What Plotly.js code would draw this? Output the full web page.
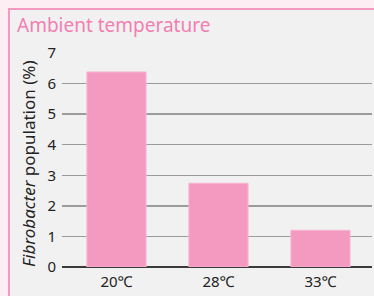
<!DOCTYPE html>
<html>
<head>
<meta charset="utf-8">
<script src="https://cdn.plot.ly/plotly-3.0.1.min.js"></script>
<style>html,body{margin:0;padding:0;background:#fdeef4;}#chart{width:374px;height:296px;}</style>
</head>
<body>
<div id="chart"></div>
<script>
const categories = ["20\u2103", "28\u2103", "33\u2103"];
const population = [6.38, 2.74, 1.2];
const yTicks = [0, 1, 2, 3, 4, 5, 6, 7];

const W = 374, H = 296;
const M = {l: 62, r: 2, t: 53, b: 29};
const pw = W - M.l - M.r, ph = H - M.t - M.b;
const px = v => (v - M.l) / pw;
const py = v => (H - M.b - v) / ph;

const fontFam = '"Noto Sans", "Open Sans", sans-serif';

const trace = {
  type: 'bar',
  x: categories,
  y: population,
  marker: {color: '#f49ac1', line: {color: '#f7b6d2', width: 1}},
  hoverinfo: 'none'
};

const layout = {
  width: W, height: H,
  margin: M,
  paper_bgcolor: '#fdeef4',
  plot_bgcolor: 'rgba(0,0,0,0)',
  showlegend: false,
  bargap: 0.42,
  font: {family: fontFam, color: '#222'},
  title: {
    text: 'Ambient temperature',
    font: {family: fontFam, size: 19, color: '#f27fb2'},
    xref: 'container', yref: 'container',
    x: 17 / W, xanchor: 'left',
    y: 1 - 25 / H, yanchor: 'middle'
  },
  xaxis: {
    type: 'category',
    range: [-0.534, 2.505],
    showgrid: false,
    zeroline: false,
    showline: false,
    ticks: '',
    ticklabelstandoff: 4,
    tickfont: {size: 15, color: '#222'},
    fixedrange: true
  },
  yaxis: {
    range: [0, 7],
    tickvals: yTicks,
    ticktext: yTicks.map(String),
    showgrid: true,
    gridcolor: '#9c9c9c',
    gridwidth: 1.5,
    zeroline: true,
    zerolinecolor: '#3a3a3a',
    zerolinewidth: 1.6,
    ticks: '',
    ticklabelstandoff: 5,
    tickfont: {size: 15, color: '#222'},
    fixedrange: true
  },
  shapes: [
    {
      type: 'rect', layer: 'below',
      xref: 'paper', yref: 'paper',
      x0: px(9), x1: px(W + 10), y0: py(H + 10), y1: py(9),
      fillcolor: '#f1f1f1',
      line: {color: '#f49ac1', width: 2}
    }
  ],
  annotations: [
    {
      text: '<i>Fibrobacter</i> population (%)',
      xref: 'paper', yref: 'paper',
      x: px(28), y: py(164),
      xanchor: 'center', yanchor: 'middle',
      textangle: -90,
      showarrow: false,
      font: {family: fontFam, size: 17, color: '#222'}
    }
  ]
};

Plotly.newPlot('chart', [trace], layout, {displayModeBar: false, staticPlot: true});
</script>
</body>
</html>
